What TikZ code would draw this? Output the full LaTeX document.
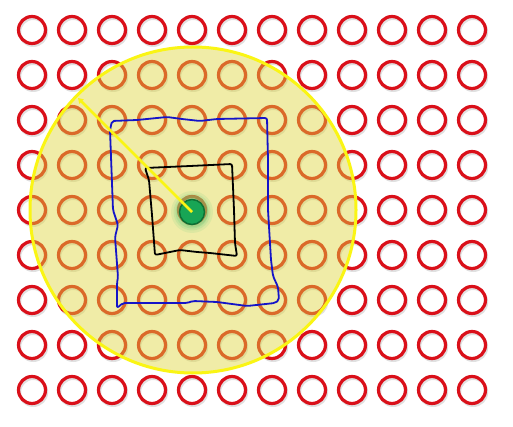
\documentclass[tikz,border=0pt]{standalone}
\usetikzlibrary{arrows.meta}
\definecolor{ringred}{RGB}{218,16,26}
\definecolor{zone}{RGB}{222,214,60}
\definecolor{zoneedge}{RGB}{250,245,20}
\definecolor{dotgreen}{RGB}{24,165,85}
\definecolor{dotedge}{RGB}{14,112,52}
\definecolor{glow}{RGB}{90,200,120}
\definecolor{sqblue}{RGB}{20,20,200}
\begin{document}
\begin{tikzpicture}[x=1pt,y=-1pt,
  ring/.style={circle,draw=ringred,line width=3.2pt,minimum size=27pt,inner sep=0pt},
  ringshadow/.style={draw=black,opacity=0.12,line width=3pt},
  zonefill/.style={fill=zone,fill opacity=0.45},
  zoneline/.style={draw=zoneedge,line width=3pt},
  sketch/.style={line width=1.8pt,rounded corners=2pt,line join=round},
  dotstyle/.style={circle,fill=dotgreen,draw=dotedge,line width=1.5pt,minimum size=25pt,inner sep=0pt},
  pointer/.style={draw=zoneedge,line width=2.8pt,-{Triangle[length=5pt,width=6pt]}}]
\useasboundingbox (0,0) rectangle (513,427);
\fill[white] (0,0) rectangle (513,427);
% grid of rings
\foreach \i in {0,...,11}{
  \foreach \j in {0,...,8}{
    \draw[ringshadow] (32+40*\i+1.2,30+45*\j+2) circle (13.5);
    \node[ring] (c-\i-\j) at (32+40*\i,30+45*\j) {};
  }
}
% zone
\node[circle,minimum size=326pt,inner sep=0pt,zonefill] (zone) at (193,210) {};
\draw[zoneline] (zone.center) circle (163);
% blue square
\draw[sketch,draw=sqblue] (112,121) -- (137,120) -- (167,117) -- (182,119) -- (200,121) -- (217,119) -- (267,118)
  -- (268,160) -- (268,210) -- (271,260) -- (273,276) -- (278,287) -- (279,300) -- (275,303)
  -- (247,306) -- (217,302) -- (193,301) -- (187,303) -- (123,303) -- (117,308)
  -- (117,283) -- (118,277) -- (115,237) -- (118,225) -- (113,210) -- (110,130) -- cycle;
% black square
\draw[sketch,draw=black] (145,168) -- (190,166) -- (232,164) -- (234,210) -- (235,243) -- (237,256)
  -- (210,253) -- (197,252) -- (180,250) -- (165,253) -- (155,255)
  -- (152,215) -- (149,180) -- cycle;
% green dot with glow
\foreach \r/\o in {21/0.12,18.5/0.16,16.5/0.22}{
  \fill[glow,opacity=\o] (192,212) circle (\r);
}
\node[dotstyle] (dot) at (192,212) {};
% pointer
\coordinate (tip) at (78,98);
\draw[pointer] (dot.center) -- (tip);
\end{tikzpicture}
\end{document}
